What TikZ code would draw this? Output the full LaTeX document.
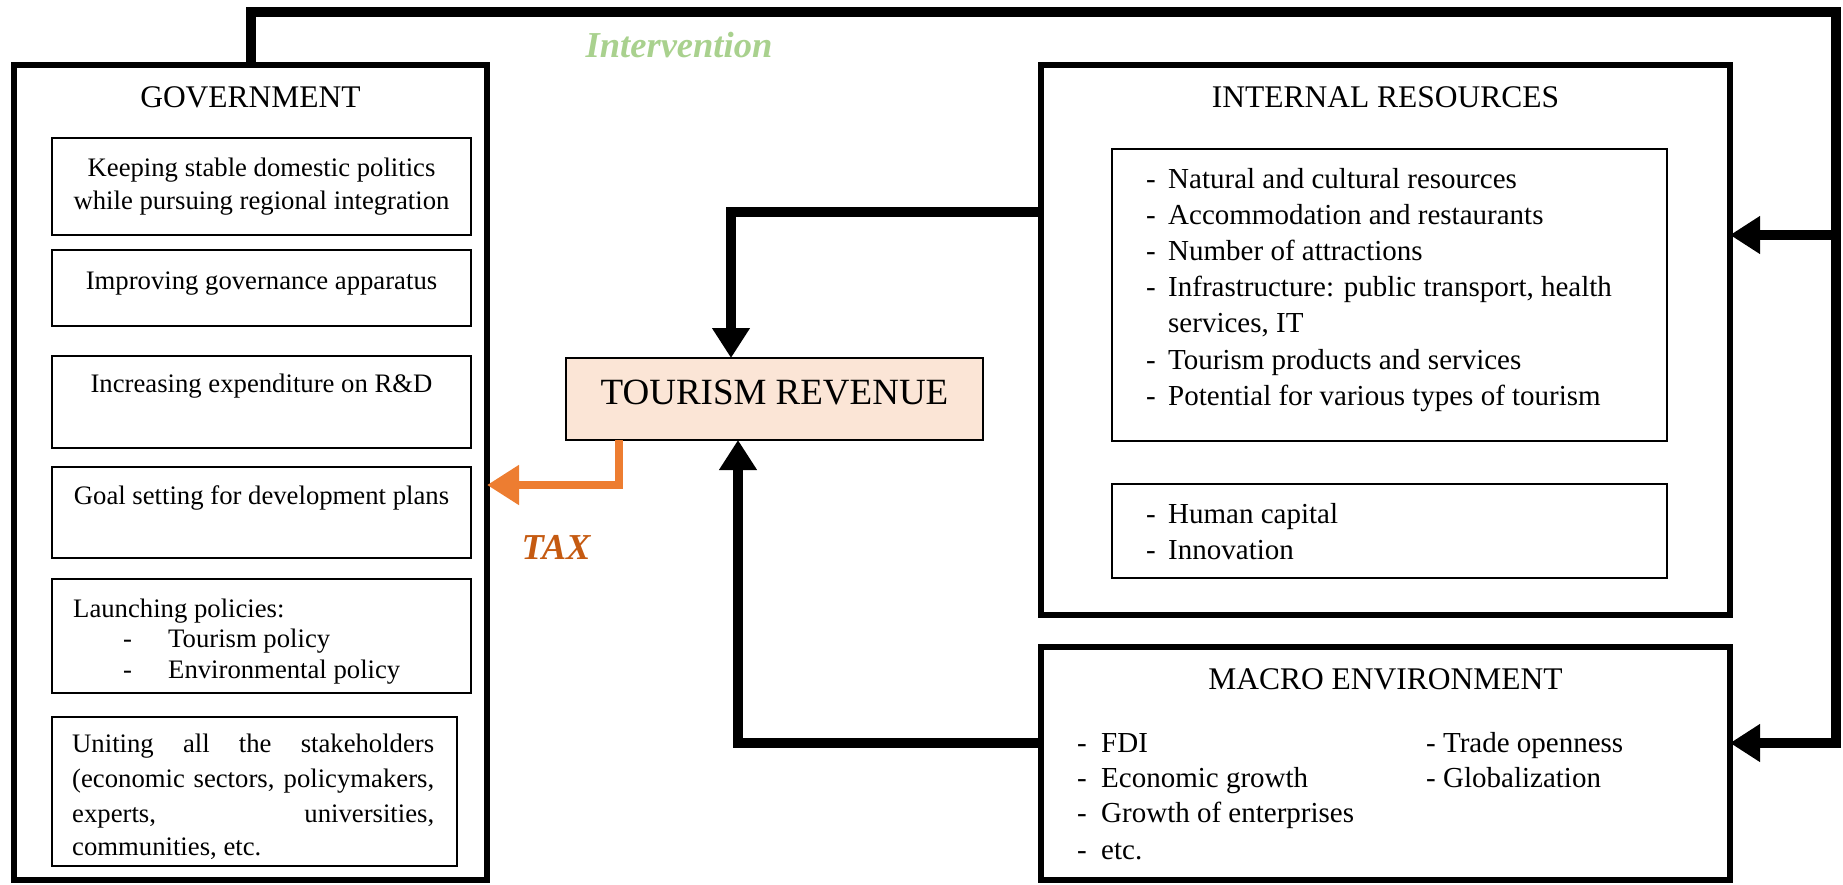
\documentclass[tikz,border=0pt]{standalone}
\usepackage{fontspec}
\setmainfont{Liberation Serif}
\usetikzlibrary{arrows.meta}
\definecolor{intgreen}{HTML}{A9D18E}
\definecolor{trfill}{HTML}{FBE5D6}
\definecolor{taxarrow}{HTML}{ED7D31}
\definecolor{taxtext}{HTML}{C55A11}
\newcommand\bodyfnt{\fontsize{29pt}{36pt}\selectfont}
\newcommand\govfnt{\fontsize{26.7pt}{36pt}\selectfont}
\newcommand\titlefnt{\fontsize{31.5pt}{38pt}\selectfont}
\begin{document}
\begin{tikzpicture}[x=1pt,y=-1pt,
  outerbox/.style={draw, line width=6pt, rectangle, inner sep=0pt, outer sep=0pt},
  govsub/.style={draw, line width=2pt, rectangle, inner sep=0pt, outer sep=0pt},
  irsub/.style={draw, line width=1.5pt, rectangle, inner sep=0pt, outer sep=0pt},
  trbox/.style={draw, line width=2.5pt, fill=trfill, rectangle, inner sep=0pt, outer sep=0pt},
  txt/.style={anchor=base west, inner sep=0pt, font=\bodyfnt},
  gtxt/.style={anchor=base west, inner sep=0pt, font=\govfnt},
  gctxt/.style={anchor=base, inner sep=0pt, font=\govfnt},
  ttl/.style={anchor=base, inner sep=0pt, font=\titlefnt},
  conn/.style={line width=10pt, line join=miter, -{Triangle[length=30pt,width=36pt]}},
  taxconn/.style={line width=8pt, line join=miter, draw=taxarrow, -{Triangle[length=32pt,width=38pt]}},
  bigital/.style={anchor=base, inner sep=0pt, font=\fontsize{36.5pt}{42pt}\selectfont\bfseries\itshape},
]
\useasboundingbox (0,0) rectangle (1843,884);

% ---------- boxes ----------
\node[outerbox, minimum width=473pt, minimum height=815pt] (gov) at (250.5,472.5) {};
\node[govsub, minimum width=419pt, minimum height=97pt] (g1) at (261.5,186.5) {};
\node[govsub, minimum width=419pt, minimum height=76pt] (g2) at (261.5,288) {};
\node[govsub, minimum width=419pt, minimum height=92pt] (g3) at (261.5,402) {};
\node[govsub, minimum width=419pt, minimum height=91pt] (g4) at (261.5,512.5) {};
\node[govsub, minimum width=419pt, minimum height=114pt] (g5) at (261.5,636) {};
\node[govsub, minimum width=405pt, minimum height=149pt] (g6) at (254.5,791) {};

\node[trbox, minimum width=417pt, minimum height=82pt] (tr) at (774.5,399) {};

\node[outerbox, minimum width=689pt, minimum height=550pt] (ir) at (1385.5,340) {};
\node[irsub, minimum width=555pt, minimum height=292pt] (ir1) at (1389.5,295) {};
\node[irsub, minimum width=555pt, minimum height=94pt] (ir2) at (1389.5,531) {};

\node[outerbox, minimum width=689pt, minimum height=233pt] (me) at (1385.5,763.5) {};

% ---------- texts ----------
\node[ttl] (govt) at (250.5,107) {GOVERNMENT};
\node[gctxt] (g1a) at (261.5,176) {Keeping stable domestic politics};
\node[gctxt] (g1b) at (261.5,209) {while pursuing regional integration};
\node[gctxt] (g2a) at (261.5,289) {Improving governance apparatus};
\node[gctxt] (g3a) at (261.5,392) {Increasing expenditure on R\&D};
\node[gctxt] (g4a) at (261.5,504) {Goal setting for development plans};
\node[gtxt] (g5a) at (73,617) {Launching policies:};
\node[gtxt] (g5b) at (123,647) {-};
\node[gtxt] (g5c) at (168,647) {Tourism policy};
\node[gtxt] (g5d) at (123,678) {-};
\node[gtxt] (g5e) at (168,678) {Environmental policy};
\node[gtxt] (g6a) at (72,752) {\makebox[362pt][s]{Uniting all the stakeholders}};
\node[gtxt] (g6b) at (72,787) {\makebox[362pt][s]{(economic sectors, policymakers,}};
\node[gtxt] (g6c) at (72,822) {\makebox[362pt][s]{experts, universities,}};
\node[gtxt] (g6d) at (72,855) {communities, etc.};

\node[anchor=base, inner sep=0pt, font=\fontsize{37pt}{44pt}\selectfont] (trt) at (774.5,404) {TOURISM REVENUE};

\node[ttl] (irt) at (1385.5,107) {INTERNAL RESOURCES};
\foreach \i/\y/\t in {1/188/Natural and cultural resources,
                      2/224/Accommodation and restaurants,
                      3/260/Number of attractions,
                      4/296/{Infrastructure: public transport, health},
                      6/369/Tourism products and services,
                      7/405/Potential for various types of tourism}{
  \node[txt] (ird\i) at (1146,\y) {-};
  \node[txt] (iri\i) at (1168,\y) {\t};
}
\node[txt] (iri5) at (1168,332) {services, IT};
\node[txt] (hcd) at (1146,523) {-};
\node[txt] (hc) at (1168,523) {Human capital};
\node[txt] (ind) at (1146,559) {-};
\node[txt] (inn) at (1168,559) {Innovation};

\node[ttl] (met) at (1385.5,689) {MACRO ENVIRONMENT};
\foreach \i/\y/\t in {1/752/FDI, 2/787/Economic growth, 3/822/Growth of enterprises, 4/859/etc.}{
  \node[txt] (med\i) at (1077,\y) {-};
  \node[txt] (mei\i) at (1101,\y) {\t};
}
\node[txt] (mer1) at (1426,752) {- Trade openness};
\node[txt] (mer2) at (1426,787) {- Globalization};

\node[bigital, text=intgreen] (intv) at (679,57) {Intervention};
\node[bigital, text=taxtext] (taxl) at (556,559) {TAX};

% ---------- connectors ----------
\coordinate (i1) at (251,12);
\coordinate (i2) at (1836,12);
\coordinate (i3) at (1836,743);
\coordinate (b1) at (1836,235);
\draw[conn] (gov.north -| i1) -- (i1) -- (i2) -- (i3) -- (me.east |- i3);
\draw[conn] (b1) -- (ir.east |- b1);

\coordinate (c1) at (731,212);
\draw[conn] (ir.west |- c1) -| (c1 |- tr.north);
\coordinate (c2) at (738,743);
\draw[conn] (me.west |- c2) -| (c2 |- tr.south);

\coordinate (t1) at (619,485);
\draw[taxconn] (t1 |- tr.south) |- (gov.east |- t1);
\end{tikzpicture}
\end{document}
